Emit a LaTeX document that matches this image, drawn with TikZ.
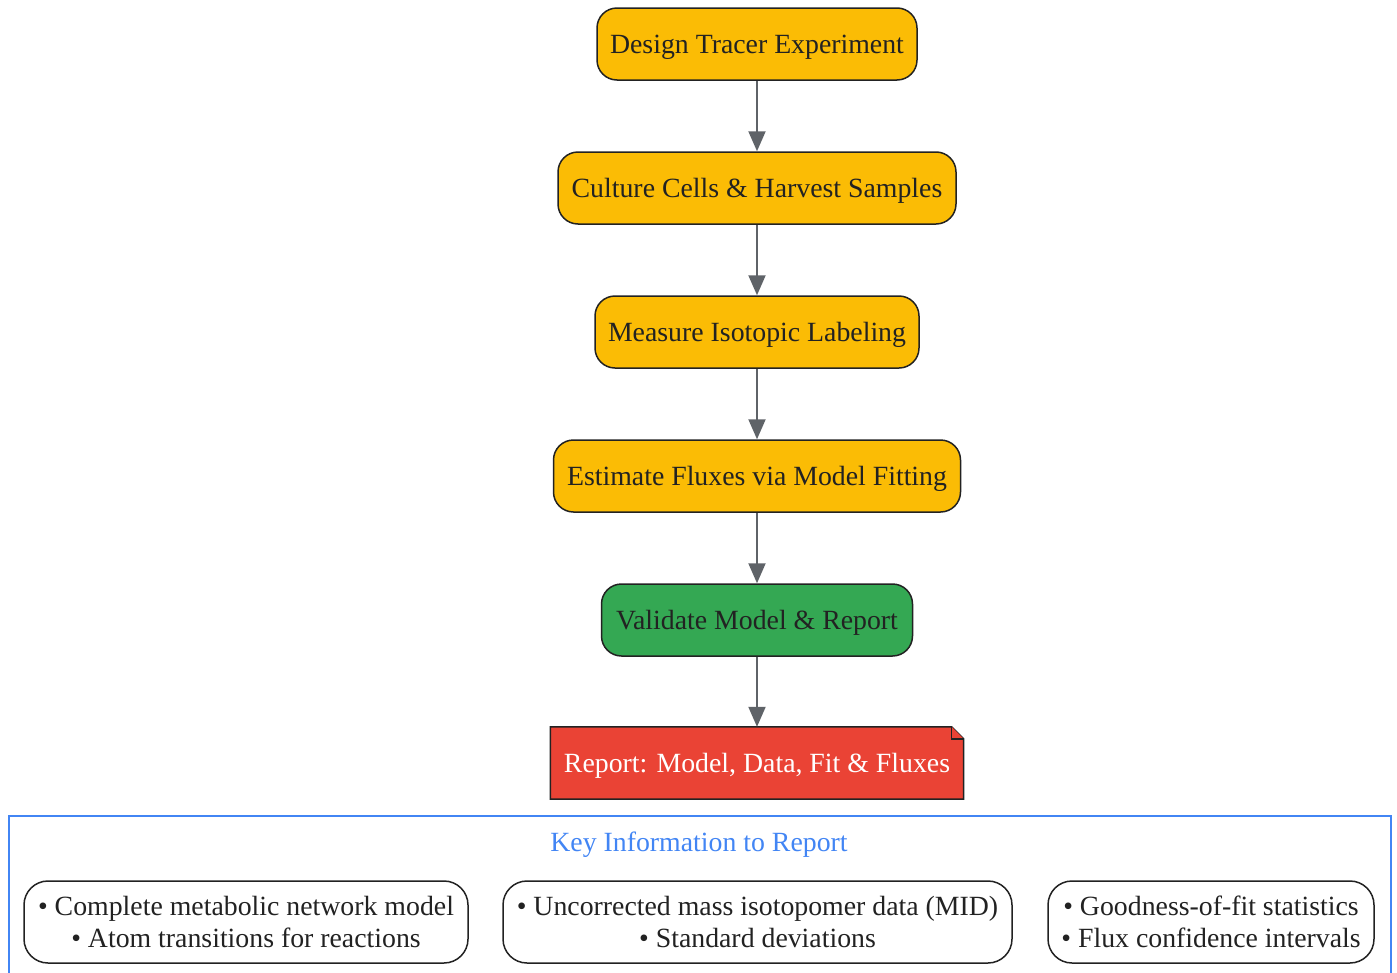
\documentclass[tikz,border=0pt]{standalone}
\usepackage{fontspec}
\setmainfont{Liberation Serif}
\usetikzlibrary{arrows.meta,positioning}
\definecolor{gyellow}{HTML}{FBBC05}
\definecolor{ggreen}{HTML}{34A853}
\definecolor{gred}{HTML}{EA4335}
\definecolor{gblue}{HTML}{4285F4}
\definecolor{ggray}{HTML}{5F6368}
\definecolor{txt}{HTML}{222222}
\tikzset{
  stepbox/.style={draw=txt, line width=1.5pt, rounded corners=20pt, fill=gyellow,
    minimum height=72pt, inner xsep=13pt, text=txt, text depth=0pt,
    font=\fontsize{27.8}{30}\selectfont},
  greenbox/.style={stepbox, fill=ggreen},
  infobox/.style={draw=txt, line width=1.5pt, rounded corners=24pt, fill=white,
    minimum height=82pt, text=txt, align=center,
    font=\fontsize{27.8}{32}\selectfont},
  flow/.style={draw=ggray, line width=2pt, -{Triangle[length=20pt,width=17pt]}},
}
\begin{document}
\begin{tikzpicture}[x=1pt,y=-1pt]
\useasboundingbox (0,0) rectangle (1397,972);
\node[stepbox, minimum width=320pt] (n1) at (757,44) {Design Tracer Experiment};
\node[stepbox, minimum width=398pt] (n2) at (757,188) {Culture Cells \& Harvest Samples};
\node[stepbox, minimum width=324pt] (n3) at (757,332) {Measure Isotopic Labeling};
\node[stepbox, minimum width=407pt] (n4) at (757,476) {Estimate Fluxes via Model Fitting};
\node[greenbox, minimum width=311pt] (n5) at (757,620) {Validate Model \& Report};
\node[minimum width=413pt, minimum height=72pt, inner sep=0pt] (n6) at (757,763) {};
\fill[gred] (n6.north west) -- ([xshift=-12pt]n6.north east) -- ([yshift=-12pt]n6.north east)
  -- (n6.south east) -- (n6.south west) -- cycle;
\draw[txt, line width=1.5pt, line join=miter] (n6.north west) -- ([xshift=-12pt]n6.north east) -- ([yshift=-12pt]n6.north east)
  -- (n6.south east) -- (n6.south west) -- cycle;
\draw[txt, line width=1.5pt, fill=gred] ([xshift=-12pt]n6.north east) -- ([xshift=-12pt,yshift=-12pt]n6.north east) -- ([yshift=-12pt]n6.north east);
\node[text=white, text depth=0pt, font=\fontsize{27.8}{30}\selectfont] (n6t) at (n6.center) {Report: Model, Data, Fit \& Fluxes};
\draw[flow] (n1) -- (n2);
\draw[flow] (n2) -- (n3);
\draw[flow] (n3) -- (n4);
\draw[flow] (n4) -- (n5);
\draw[flow] (n5) -- (n6);
% cluster
\node[draw=gblue, line width=1.7pt, minimum width=1382pt, minimum height=200pt,
  inner sep=0pt, anchor=north west] (cl) at (8,815) {};
\node[text=gblue, text depth=0pt, font=\fontsize{27.8}{30}\selectfont] (clt) at (699,842) {Key Information to Report};
\node[infobox, minimum width=444pt] (b1) at (246,922) {• Complete metabolic network model\\• Atom transitions for reactions};
\node[infobox, minimum width=509pt] (b2) at (757.5,922) {• Uncorrected mass isotopomer data (MID)\\• Standard deviations};
\node[infobox, minimum width=326pt] (b3) at (1211,922) {• Goodness-of-fit statistics\\• Flux confidence intervals};
\end{tikzpicture}
\end{document}
